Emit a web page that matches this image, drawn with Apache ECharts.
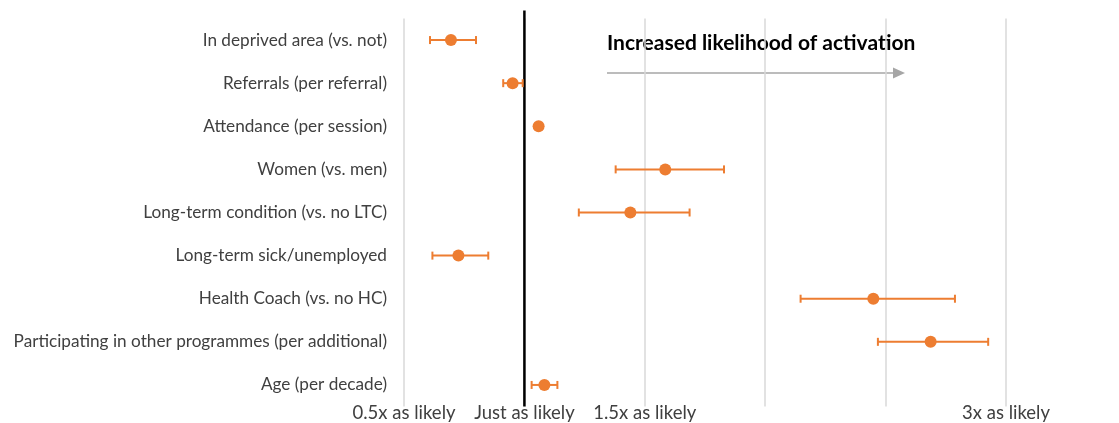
<!DOCTYPE html>
<html>
<head>
<meta charset="utf-8">
<script src="https://cdn.jsdelivr.net/npm/echarts@6/dist/echarts.min.js"></script>
<style>html,body{margin:0;padding:0;background:#fff}#c{width:1119px;height:423px}</style>
</head>
<body>
<div id="c"></div>
<script>
var categories = ["In deprived area (vs. not)","Referrals (per referral)","Attendance (per session)","Women (vs. men)","Long-term condition (vs. no LTC)","Long-term sick/unemployed","Health Coach (vs. no HC)","Participating in other programmes (per additional)","Age (per decade)"];
var estimate = [0.695, 0.951, 1.059, 1.585, 1.440, 0.726, 2.449, 2.687, 1.083];
var lower    = [0.608, 0.912, 1.050, 1.379, 1.226, 0.618, 2.147, 2.468, 1.030];
var upper    = [0.799, 0.993, 1.068, 1.829, 1.686, 0.850, 2.788, 2.926, 1.137];
var tickLabels = {"0.5":"0.5x as likely","1":"Just as likely","1.5":"1.5x as likely","2":"","2.5":"","3":"3x as likely"};
var referenceValue = 1;
var annotation = "Increased likelihood of activation";

var FONT = "Lato";
var ORANGE = "#ED7D31";
var chart = echarts.init(document.getElementById('c'));
var ciData = categories.map(function(c,i){return [lower[i], upper[i], i];});
var ptData = categories.map(function(c,i){return [estimate[i], i];});

chart.setOption({
  animation:false,
  grid:{left:404,right:113,top:18.5,bottom:16.5,containLabel:false},
  xAxis:{type:'value',min:0.5,max:3,interval:0.5,
    axisLine:{show:false},axisTick:{show:false},
    splitLine:{show:true,lineStyle:{color:'#d9d9d9',width:1.5}},
    axisLabel:{margin:-3,fontFamily:FONT,fontSize:18.5,color:'#404040',
      formatter:function(v){var k=String(Math.round(v*10)/10);return tickLabels[k]!==undefined?tickLabels[k]:'';}}},
  yAxis:{type:'category',data:categories,inverse:true,
    axisLine:{show:false},axisTick:{show:false},splitLine:{show:false},
    axisLabel:{margin:17,fontFamily:FONT,fontSize:17.2,color:'#404040'}},
  graphic:[
    {type:'text',left:607,top:33,style:{text:annotation,fontFamily:FONT,fontSize:21,fontWeight:'bold',fill:'#000'}},
    {type:'line',shape:{x1:607,y1:73,x2:894,y2:73},style:{stroke:'#a6a6a6',lineWidth:1.5}},
    {type:'polygon',shape:{points:[[893,67.5],[905,73],[893,78.5]]},style:{fill:'#a6a6a6'}}
  ],
  series:[
    {type:'custom',z:1,data:[[referenceValue]],encode:{x:0},
      renderItem:function(params,api){
        var x=api.coord([api.value(0),0])[0];
        var cs=params.coordSys;
        return {type:'line',shape:{x1:x,y1:cs.y-8,x2:x,y2:cs.y+cs.height},style:{stroke:'#000',lineWidth:2.5}};
      }},
    {type:'custom',z:2,data:ciData,encode:{x:[0,1],y:2},
      renderItem:function(params,api){
        var y=api.value(2);
        var p1=api.coord([api.value(0),y]);
        var p2=api.coord([api.value(1),y]);
        var h=4;
        var st={stroke:ORANGE,lineWidth:2};
        return {type:'group',children:[
          {type:'line',shape:{x1:p1[0],y1:p1[1],x2:p2[0],y2:p2[1]},style:st},
          {type:'line',shape:{x1:p1[0],y1:p1[1]-h,x2:p1[0],y2:p1[1]+h},style:st},
          {type:'line',shape:{x1:p2[0],y1:p2[1]-h,x2:p2[0],y2:p2[1]+h},style:st}
        ]};
      }},
    {type:'scatter',z:3,data:ptData,symbol:'circle',symbolSize:12,itemStyle:{color:ORANGE,opacity:1}}
  ]
});
</script>
</body>
</html>
